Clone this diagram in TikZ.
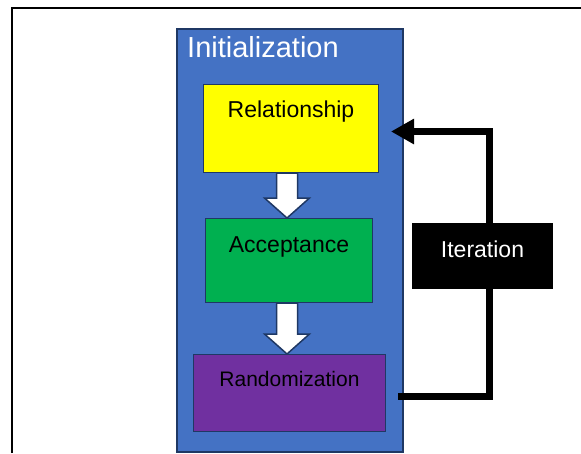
\documentclass[tikz,border=0pt]{standalone}
\usepackage{fontspec}
\setmainfont{Liberation Sans}
\usetikzlibrary{arrows.meta,calc}
\definecolor{initblue}{HTML}{4472C4}
\definecolor{navy}{HTML}{1F3864}
\definecolor{relyellow}{HTML}{FFFF00}
\definecolor{accgreen}{HTML}{00B050}
\definecolor{randpurple}{HTML}{7030A0}
% white block arrow from #1 down to #2, on the axis (ax)
\newcommand{\downblock}[2]{%
\path (#1.south -| ax) coordinate (bs) (#2.north -| ax) coordinate (bt);
\draw[blockarrow] ([xshift=-10.5pt]bs) -- ([xshift=-10.5pt,yshift=20pt]bt) -- ([xshift=-22.5pt,yshift=20pt]bt) -- (bt) -- ([xshift=22.5pt,yshift=20pt]bt) -- ([xshift=10.5pt,yshift=20pt]bt) -- ([xshift=10.5pt]bs) -- cycle;}
\begin{document}
\begin{tikzpicture}[x=1pt,y=-1pt,
box/.style={draw=navy, line width=1pt, anchor=north west, inner sep=0pt},
txt/.style={anchor=base, inner sep=0pt, font=\fontsize{23}{23}\selectfont},
blockarrow/.style={draw=navy, line width=1.5pt, fill=white, line join=miter},
feedback/.style={line width=7pt, line join=miter, -{Triangle[length=23pt,width=24pt]}}]
\useasboundingbox (0,0) rectangle (581,453);
\draw[line width=2pt] (12,453) -- (12,8) -- (581,8);

\node[box, fill=initblue, line width=2pt, minimum width=226pt, minimum height=423pt] (init) at (176,28){};
\node[anchor=base west, inner sep=0pt, text=white, font=\fontsize{29}{29}\selectfont] (inittxt) at ([xshift=11pt,yshift=-29pt]init.north west){Initialization};

\node[box, fill=relyellow, minimum width=175pt, minimum height=88pt] (rel) at (203,84){};
\node[txt] (reltxt) at ([yshift=-33pt]rel.north){Relationship};
\node[box, fill=accgreen, minimum width=167pt, minimum height=84pt] (acc) at (205,218){};
\node[txt] (acctxt) at ([yshift=-34pt]acc.north){Acceptance};
\node[box, fill=randpurple, minimum width=192pt, minimum height=77pt] (rand) at (193,354){};
\node[txt, font=\fontsize{21}{21}\selectfont] (randtxt) at ([yshift=-32pt]rand.north){Randomization};

\coordinate (ax) at (287,0);
\downblock{rel}{acc}
\downblock{acc}{rand}

\path ([xshift=12pt,yshift=-3.5pt]rand.east) coordinate (fbstart) ([xshift=12pt,yshift=-3pt]rel.east) coordinate (fbend);
\coordinate (loop) at (489.5,0);
\draw[feedback] (fbstart) -| (fbend -| loop) -- (fbend);

\node[box, fill=black, draw=black, minimum width=140pt, minimum height=65pt] (iter) at (412,223){};
\node[txt, text=white] (itertxt) at ([yshift=-34pt]iter.north){Iteration};
\end{tikzpicture}
\end{document}
